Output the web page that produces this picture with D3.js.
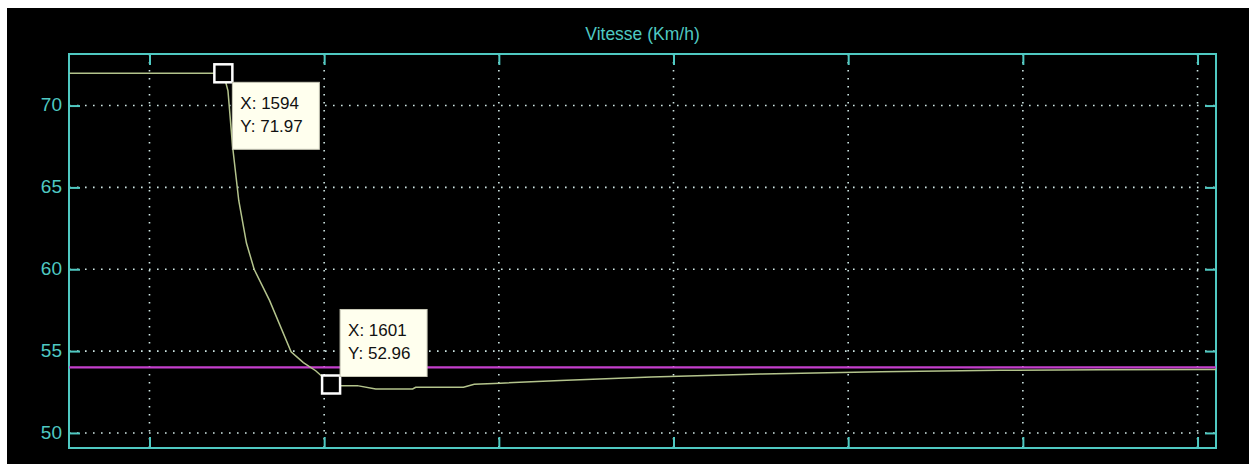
<!DOCTYPE html>
<html>
<head>
<meta charset="utf-8">
<script src="https://cdn.jsdelivr.net/npm/d3@7"></script>
<style>
  html, body { margin: 0; padding: 0; background: #ffffff; }
  svg { display: block; }
  text { font-family: Arial, "Liberation Sans", sans-serif; }
</style>
</head>
<body>
<svg id="chart" width="1249" height="464"></svg>
<script>
// Vehicle speed trace (km/h) against sample index
const speedX = [1584, 1594, 1594.3, 1594.6, 1595.0, 1595.5, 1596.0, 1597.0, 1598.4, 1599.2, 1600.0, 1601,
                1601.6, 1602.7, 1603.9, 1606.3, 1606.5, 1609.6, 1610.3, 1612.0, 1615.9, 1621.8,
                1628.9, 1636.7, 1644.5, 1651.0, 1658.5];
const speedY = [71.97, 71.97, 70.9, 67.5, 64.2, 61.6, 60.0, 58.1, 54.95, 54.3, 53.8, 52.96,
                52.89, 52.89, 52.69, 52.69, 52.79, 52.79, 52.97, 53.04, 53.2, 53.42,
                53.6, 53.74, 53.83, 53.86, 53.88];

// Target speed reference
const refSpeed = 54.0;

// Data tips
const tipX = [1594, 1601];
const tipY = [71.97, 52.96];

// Axis ticks
const xTicks = [1589.2, 1600.55, 1611.9, 1623.25, 1634.6, 1645.95, 1657.3];
const yTicks = [50, 55, 60, 65, 70];

const title = "Vitesse (Km/h)";

const cyan = "#4fc9c2";
const gridCol = "#cfe6e4";

const svg = d3.select("#chart");
const W = 1249, H = 464;
const L = 69, R = 1216, T = 54, B = 448;

svg.append("rect").attr("x", 0).attr("y", 0).attr("width", W).attr("height", H).attr("fill", "#ffffff");
svg.append("rect").attr("x", 7).attr("y", 8).attr("width", W - 7).attr("height", H - 8).attr("fill", "#000000");

const x = d3.scaleLinear().domain([1583.97, 1658.5]).range([L, R]);
const y = d3.scaleLinear().domain([49.08, 73.15]).range([B, T]);

// Dotted grid
const grid = svg.append("g");
grid.selectAll("line.h").data(yTicks).join("line")
  .attr("x1", L).attr("x2", R)
  .attr("y1", d => y(d)).attr("y2", d => y(d))
  .attr("stroke", gridCol).attr("stroke-width", 1.6)
  .attr("stroke-dasharray", "1.6 6.4");
grid.selectAll("line.v").data(xTicks).join("line")
  .attr("y1", T).attr("y2", B)
  .attr("x1", d => x(d)).attr("x2", d => x(d))
  .attr("stroke", gridCol).attr("stroke-width", 1.6)
  .attr("stroke-dasharray", "1.6 6.4");

// Axes with inward ticks
function styleAxis(g) {
  g.select(".domain").remove();
  g.selectAll(".tick line").attr("stroke", cyan).attr("stroke-width", 2);
  g.selectAll(".tick text").attr("fill", cyan).attr("font-size", 19)
    .attr("font-family", "Arial, 'Liberation Sans', sans-serif");
}
svg.append("g").attr("transform", `translate(${L},0)`)
  .call(d3.axisLeft(y).tickValues(yTicks).tickSize(-11).tickPadding(7).tickFormat(d3.format("d")))
  .call(styleAxis)
  .selectAll(".tick text").attr("dy", "0.28em");
svg.append("g").attr("transform", `translate(${R},0)`)
  .call(d3.axisRight(y).tickValues(yTicks).tickSize(-11).tickFormat(""))
  .call(styleAxis);
svg.append("g").attr("transform", `translate(0,${B})`)
  .call(d3.axisBottom(x).tickValues(xTicks).tickSize(-11).tickFormat(""))
  .call(styleAxis);
svg.append("g").attr("transform", `translate(0,${T})`)
  .call(d3.axisTop(x).tickValues(xTicks).tickSize(-11).tickFormat(""))
  .call(styleAxis);

// Axes box
svg.append("rect").attr("x", L).attr("y", T).attr("width", R - L).attr("height", B - T)
  .attr("fill", "none").attr("stroke", cyan).attr("stroke-width", 2);

// Title
svg.append("text").attr("x", (L + R) / 2).attr("y", 40)
  .attr("text-anchor", "middle").attr("fill", cyan).attr("font-size", 17.5)
  .text(title);

// Reference line
svg.append("line")
  .attr("x1", L).attr("x2", R)
  .attr("y1", y(refSpeed)).attr("y2", y(refSpeed))
  .attr("stroke", "#c43fcc").attr("stroke-width", 2.2);

// Speed curve
const line = d3.line().x((d, i) => x(speedX[i])).y((d, i) => y(speedY[i]));
svg.append("path").datum(speedX)
  .attr("d", line)
  .attr("fill", "none").attr("stroke", "#b4c48c").attr("stroke-width", 1.5);

// Data tip markers and boxes
const tips = tipX.map((d, i) => ({ x: d, y: tipY[i], i }));
const markers = svg.append("g");
markers.selectAll("rect").data(tips).join("rect")
  .attr("x", d => x(d.x) - 9).attr("y", d => y(d.y) - 9)
  .attr("width", 18).attr("height", 18)
  .attr("fill", "#000").attr("stroke", "#ffffff").attr("stroke-width", 2.5);

const boxW = 87, boxH = 67;
const boxes = svg.append("g").selectAll("g").data(tips).join("g")
  .attr("transform", d => {
    const cx = x(d.x), cy = y(d.y);
    // first tip sits below-right of its marker, second above-right
    return d.i === 0
      ? `translate(${cx + 9},${cy + 9})`
      : `translate(${cx + 9},${cy - 9 + 1 - boxH})`;
  });
boxes.append("rect").attr("width", boxW).attr("height", boxH)
  .attr("fill", "#ffffee").attr("stroke", "#c9c9b8").attr("stroke-width", 1);
boxes.append("text").attr("x", 8).attr("y", 26.5)
  .attr("font-size", 17).attr("fill", "#111")
  .text(d => "X: " + d.x);
boxes.append("text").attr("x", 8).attr("y", 49.5)
  .attr("font-size", 17).attr("fill", "#111")
  .text(d => "Y: " + d3.format(".2f")(d.y));
</script>
</body>
</html>
